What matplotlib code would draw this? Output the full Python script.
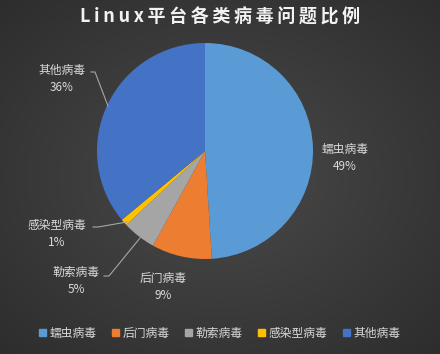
import numpy as np
import matplotlib.pyplot as plt

plt.rcParams['font.family'] = ['Noto Sans CJK SC', 'DejaVu Sans']

# data
categories = ['蠕虫病毒', '后门病毒', '勒索病毒', '感染型病毒', '其他病毒']
shares = [49, 9, 5, 1, 36]
colors = ['#5B9BD5', '#ED7D31', '#A5A5A5', '#FFC000', '#4472C4']

W, H = 440, 354
fig = plt.figure(figsize=(W / 100, H / 100), dpi=100)

# dark radial background
bg = fig.add_axes([0, 0, 1, 1])
yy, xx = np.mgrid[0:H, 0:W]
r = np.sqrt(((xx - W / 2) / (W / 2)) ** 2 + ((yy - H / 2) / (H / 2)) ** 2)
shade = np.clip(0.29 - 0.08 * r, 0, 1)
bg.imshow(np.dstack([shade] * 3), extent=[0, W, 0, H], aspect='auto')
bg.axis('off')

ax = fig.add_axes([0, 0, 1, 1])
ax.patch.set_alpha(0)

cx, cy, rad = 205, 203, 108
wedges, _ = ax.pie(shares, colors=colors, startangle=90, counterclock=False,
                   center=(cx, cy), radius=rad, frame=True,
                   wedgeprops=dict(linewidth=0))
ax.set_xlim(0, W)
ax.set_ylim(0, H)
ax.set_aspect('equal')
ax.axis('off')

txt = '#d9d9d9'
# label positions (pixel coords, y from top)
label_pos = [(345, 158), (163, 287), (76, 281), (57, 234), (62, 79)]
for name, val, (lx, ly) in zip(categories, shares, label_pos):
    ax.text(lx, H - ly, f'{name}\n{val}%', ha='center', va='center',
            fontsize=8.5, color=txt, linespacing=1.45)

# leader lines
leaders = [
    [(91, 72), (95, 72), (108, 106)],
    [(104, 276), (109, 276), (140, 238)],
    [(93, 227), (98, 227), (127, 222)],
]
for pts in leaders:
    xs = [p[0] for p in pts]
    ys = [H - p[1] for p in pts]
    ax.plot(xs, ys, color='#a6a6a6', lw=0.8)

title = '\u2009'.join('Linux平台各类病毒问题比例')
fig.text(0.5, 1 - 17 / H, title, ha='center', va='center',
         fontsize=13, fontweight='bold', color='#f2f2f2')

handles = [plt.Rectangle((0, 0), 1, 1, color=c) for c in colors]
fig.legend(handles, categories, loc='center', bbox_to_anchor=(0.5, 1 - 333 / H),
           ncol=5, frameon=False, fontsize=8.5, labelcolor=txt,
           handlelength=0.6, handleheight=0.6, handletextpad=0.3,
           columnspacing=1.3)

fig.savefig('out.png', dpi=100)
